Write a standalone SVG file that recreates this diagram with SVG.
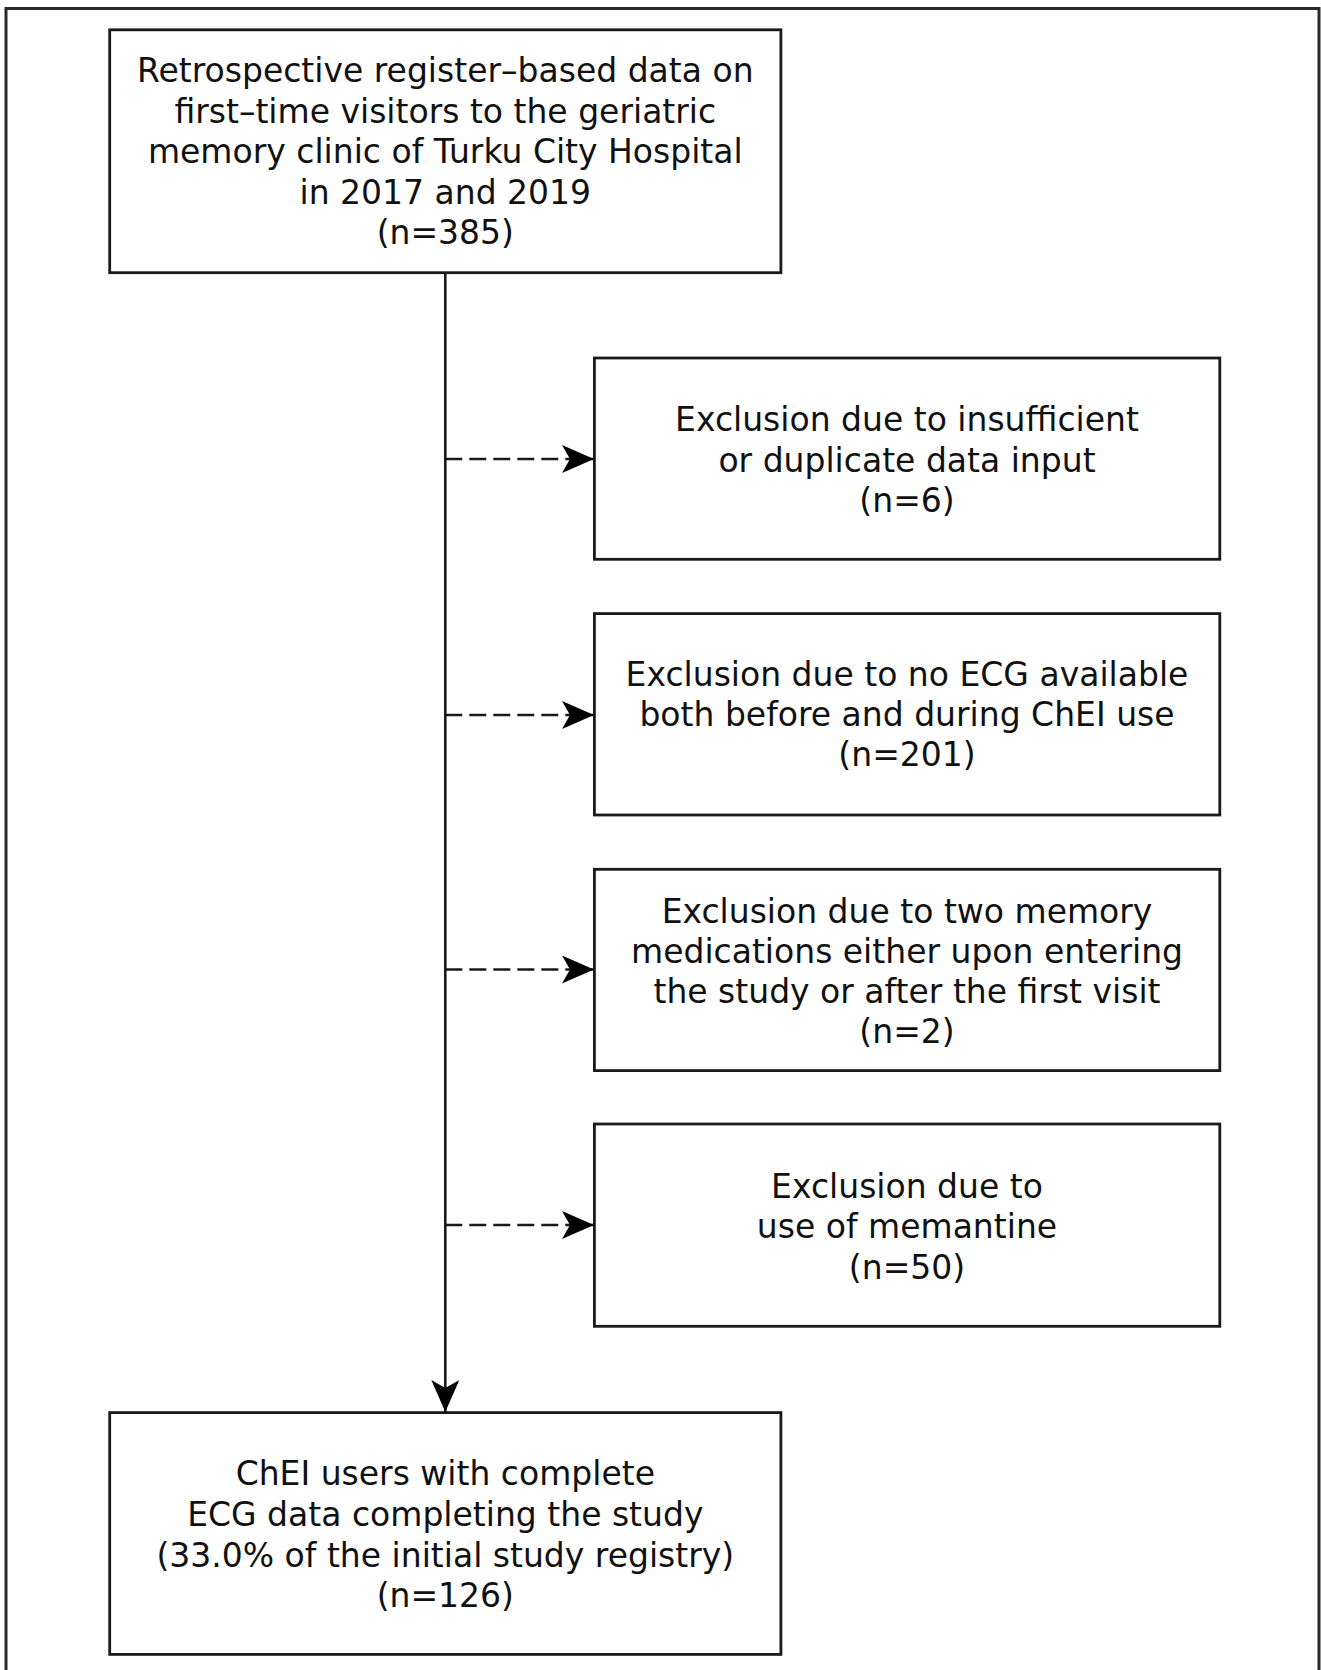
<svg xmlns="http://www.w3.org/2000/svg" width="1321" height="1670" viewBox="0 0 1321 1670">
<style>
.box{fill:#fff;stroke:#1a1a1a;stroke-width:2.8}
.t{font-family:"DejaVu Sans",Verdana,sans-serif;font-size:33px;fill:#111;text-anchor:middle}
.ln{fill:none;stroke:#1a1a1a;stroke-width:2.6}
.dash{stroke-dasharray:17 7}
</style>
<defs>
<marker id="ah" viewBox="0 0 32 28" refX="32" refY="14" markerWidth="32" markerHeight="28" markerUnits="userSpaceOnUse" orient="auto">
<path d="M0,0 L32,14 L0,28 L8,14 Z" fill="#000"/>
</marker>
</defs>
<rect width="1321" height="1670" fill="#fff"/>
<rect x="6" y="8.5" width="1313" height="1700" fill="none" stroke="#2a2a2a" stroke-width="3"/>
<g id="connectors">
<path class="ln" d="M445.3,272.7 V1412" marker-end="url(#ah)"/>
<path class="ln dash" d="M445.3,459 H594" marker-end="url(#ah)"/>
<path class="ln dash" d="M445.3,715 H594" marker-end="url(#ah)"/>
<path class="ln dash" d="M445.3,969.5 H594" marker-end="url(#ah)"/>
<path class="ln dash" d="M445.3,1225 H594" marker-end="url(#ah)"/>
</g>
<g id="start">
<rect class="box" x="109.7" y="29.8" width="671.2" height="242.9"/>
<text class="t" x="445.3" y="82">Retrospective register–based data on</text>
<text class="t" x="445.3" y="123">first–time visitors to the geriatric</text>
<text class="t" x="445.3" y="163">memory clinic of Turku City Hospital</text>
<text class="t" x="445.3" y="204">in 2017 and 2019</text>
<text class="t" x="445.3" y="244">(n=385)</text>
</g>
<g id="excl1">
<rect class="box" x="594.4" y="358" width="625.4" height="201.3"/>
<text class="t" x="907" y="431">Exclusion due to insufficient</text>
<text class="t" x="907" y="472">or duplicate data input</text>
<text class="t" x="907" y="512">(n=6)</text>
</g>
<g id="excl2">
<rect class="box" x="594.4" y="613.6" width="625.4" height="201.4"/>
<text class="t" x="907" y="686">Exclusion due to no ECG available</text>
<text class="t" x="907" y="726">both before and during ChEI use</text>
<text class="t" x="907" y="766">(n=201)</text>
</g>
<g id="excl3">
<rect class="box" x="594.4" y="869.3" width="625.4" height="201.3"/>
<text class="t" x="907" y="923">Exclusion due to two memory</text>
<text class="t" x="907" y="963">medications either upon entering</text>
<text class="t" x="907" y="1003">the study or after the first visit</text>
<text class="t" x="907" y="1043">(n=2)</text>
</g>
<g id="excl4">
<rect class="box" x="594.4" y="1124" width="625.4" height="202.3"/>
<text class="t" x="907" y="1198">Exclusion due to</text>
<text class="t" x="907" y="1238">use of memantine</text>
<text class="t" x="907" y="1279">(n=50)</text>
</g>
<g id="final">
<rect class="box" x="109.7" y="1412.6" width="671.2" height="241.8"/>
<text class="t" x="445.3" y="1485">ChEI users with complete</text>
<text class="t" x="445.3" y="1526">ECG data completing the study</text>
<text class="t" x="445.3" y="1567">(33.0% of the initial study registry)</text>
<text class="t" x="445.3" y="1607">(n=126)</text>
</g>
</svg>
